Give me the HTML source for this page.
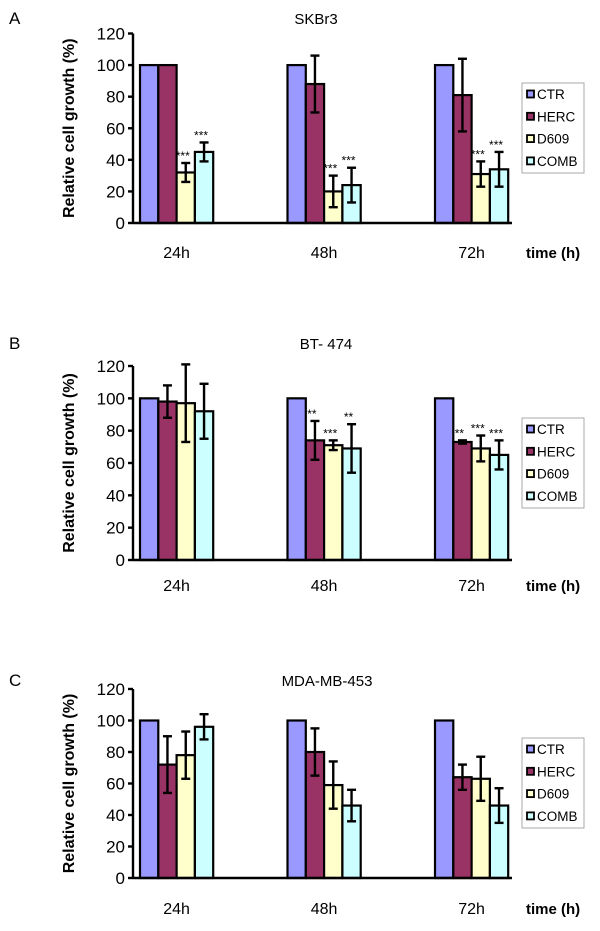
<!DOCTYPE html>
<html><head><meta charset="utf-8"><style>
body{margin:0;background:#fff;}
svg{display:block;font-family:"Liberation Sans",Arial,sans-serif;}
</style></head><body>
<svg id="fig" width="600" height="931" viewBox="0 0 600 931"></svg>
<script>
const categories = ["24h","48h","72h"];
const seriesNames = ["CTR","HERC","D609","COMB"];
const seriesColors = ["#9999ff","#993366","#ffffcc","#ccffff"];
const yTicks = [0,20,40,60,80,100,120];
const panelTitles = ["SKBr3","BT- 474","MDA-MB-453"];
const panelLetters = ["A","B","C"];
// values [series][category]
const valuesA = [[100,100,100],[100,88,81],[32,20,31],[45,24,34]];
const errorsA = [[0,0,0],[0,18,23],[6,10,8],[6,11,11]];
const starsA = [["","",""],["","",""],["***","***","***"],["***","***","***"]];
const valuesB = [[100,100,100],[98,74,73],[97,71,69],[92,69,65]];
const errorsB = [[0,0,0],[10,12,1],[24,3,8],[17,15,9]];
const starsB = [["","",""],["","**","**"],["","***","***"],["","**","***"]];
const valuesC = [[100,100,100],[72,80,64],[78,59,63],[96,46,46]];
const errorsC = [[0,0,0],[18,15,8],[15,15,14],[8,10,11]];
const starsC = [["","",""],["","",""],["","",""],["","",""]];

const svg = document.getElementById('fig');
const NS = "http://www.w3.org/2000/svg";
function mk(tag, attrs, parent){const e=document.createElementNS(NS,tag);for(const k in attrs)e.setAttribute(k,attrs[k]);(parent||svg).appendChild(e);return e;}

const panels = [
 {y0:223, y120:33.5, letterY:24, titleY:24, titleX:316, labY:258, legY:83, vals:valuesA, errs:errorsA, stars:starsA},
 {y0:560, y120:366, letterY:349, titleY:349, titleX:326, labY:591, legY:418, vals:valuesB, errs:errorsB, stars:starsB},
 {y0:878, y120:689, letterY:686, titleY:686, titleX:327, labY:914, legY:738, vals:valuesC, errs:errorsC, stars:starsC}
];
const axisX = 133, barW = 18.3, groupStep = 147.5, firstGroup = 140, axisEnd = 512;

panels.forEach((p, pi) => {
  const g = mk('g', {});
  
  
  const yS = v => p.y0 - (p.y0 - p.y120) * v / 120;
  const xS = (ci, si) => firstGroup + ci * groupStep + si * barW;

  const L = mk('text', {x:9, y:p.letterY, 'font-size':17}, g); L.textContent = panelLetters[pi];
   
  const T = mk('text', {x:p.titleX, y:p.titleY, 'font-size':15, 'text-anchor':'middle'}, g); T.textContent = panelTitles[pi];
   
  const yl = mk('text', {x:0, y:0, 'font-size':16, 'font-weight':'bold', 'text-anchor':'middle', transform:`translate(74,${(p.y0+p.y120)/2}) rotate(-90)`}, g);
  yl.textContent = 'Relative cell growth (%)';
   

  for (let si = 0; si < seriesNames.length; si++) {
    for (let ci = 0; ci < categories.length; ci++) {
      const v = p.vals[si][ci], x = xS(ci, si), y = yS(v);
      const r = mk('rect', {x:x, y:y, width:barW, height:p.y0 - y, fill:seriesColors[si], stroke:'#000', 'stroke-width':2.2}, g);
      
      
      const e = p.errs[si][ci];
      const cx = x + barW / 2;
      if (e > 0) {
        const eg = mk('g', {stroke:'#000', 'stroke-width':2.4}, g);
         
        mk('line', {x1:cx, x2:cx, y1:yS(v+e), y2:yS(v-e)}, eg);
        mk('line', {x1:cx-4.5, x2:cx+4.5, y1:yS(v+e), y2:yS(v+e)}, eg);
        mk('line', {x1:cx-4.5, x2:cx+4.5, y1:yS(v-e), y2:yS(v-e)}, eg);
      }
      const s = p.stars[si][ci];
      if (s) {
        const st = mk('text', {x:cx - 3, y:yS(v+e) - 3, 'font-size':12, 'text-anchor':'middle'}, g);
        st.textContent = s;
         
      }
    }
  }
  const ax = mk('g', {stroke:'#000', 'stroke-width':2.4}, g);
   
  mk('line', {x1:axisX, x2:axisX, y1:p.y120, y2:p.y0+1}, ax);
  mk('line', {x1:axisX, x2:axisEnd, y1:p.y0, y2:p.y0}, ax);
  yTicks.forEach(t => {
    mk('line', {x1:axisX-5, x2:axisX, y1:yS(t), y2:yS(t)}, ax);
    const tl = mk('text', {x:axisX-8, y:yS(t)+6, 'font-size':17, 'text-anchor':'end'}, g);
    tl.textContent = t;
     
  });
  categories.forEach((c, ci) => {
    const cl = mk('text', {x:xS(ci, 2), y:p.labY, 'font-size':16, 'text-anchor':'middle'}, g);
    cl.textContent = c;
     
  });
  const xt = mk('text', {x:526, y:p.labY, 'font-size':15, 'font-weight':'bold'}, g);
  xt.textContent = 'time (h)';
   

  const lg = mk('g', {}, g);
   
  mk('rect', {x:522, y:p.legY, width:62, height:90, fill:'#fff', stroke:'#aaa', 'stroke-width':1}, lg);
  seriesNames.forEach((n, si) => {
    const ey = p.legY + 11 + si * 22.3;
    const en = mk('g', {}, lg);
     
    mk('rect', {x:527, y:ey-3.5, width:7, height:7, fill:seriesColors[si], stroke:'#000', 'stroke-width':1.8}, en);
    const lt = mk('text', {x:537, y:ey+5, 'font-size':13.5}, en);
    lt.textContent = n;
  });
});
</script>
</body></html>
